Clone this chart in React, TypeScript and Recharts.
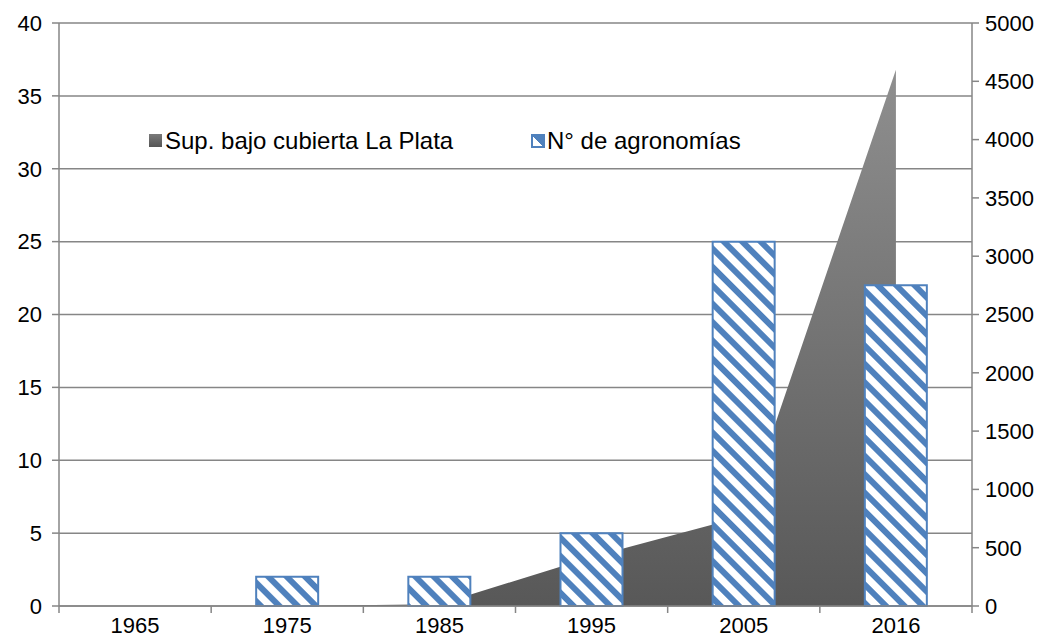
import {
  Area,
  Bar,
  CartesianGrid,
  ComposedChart,
  Legend,
  XAxis,
  YAxis
} from "recharts";

const years = ["1965", "1975", "1985", "1995", "2005", "2016"];
const agronomias = [0, 2, 2, 5, 25, 22];
const superficie = [0, 0, 15, 420, 770, 4600];

const leftTicks = [0, 5, 10, 15, 20, 25, 30, 35, 40];
const rightTicks = [0, 500, 1000, 1500, 2000, 2500, 3000, 3500, 4000, 4500, 5000];

const FONT = "'Liberation Sans', Arial, sans-serif";
const AXIS = "#868686";
const BLUE = "#4f81bd";

const data = years.map((year, idx) => ({
  year,
  agronomias: agronomias[idx] || null,
  superficie: superficie[idx]
}));

function YearTick(props: any) {
  const { x, y, payload } = props;
  const half = payload.offset ?? 76;
  const left = payload.coordinate - half;
  const right = payload.coordinate + half;
  return (
    <g>
      <line x1={left} x2={left} y1={y} y2={y + 7} stroke={AXIS} strokeWidth={1.5} />
      {payload.index === years.length - 1 && (
        <line x1={right} x2={right} y1={y} y2={y + 7} stroke={AXIS} strokeWidth={1.5} />
      )}
      <text x={x} y={y + 27} textAnchor="middle" fontSize={22} fontFamily={FONT} fill="#000">
        {payload.value}
      </text>
    </g>
  );
}

function LegendBox() {
  return (
    <div style={{ position: "relative", height: 0, fontFamily: FONT, fontSize: 24, color: "#000" }}>
      <div
        style={{
          position: "absolute",
          left: 149,
          top: 134,
          width: 13,
          height: 13,
          background: "linear-gradient(#7a7a7a, #555)"
        }}
      />
      <div style={{ position: "absolute", left: 165, top: 127, lineHeight: "28px", whiteSpace: "nowrap" }}>
        Sup. bajo cubierta La Plata
      </div>
      <div
        style={{
          position: "absolute",
          left: 531,
          top: 134,
          width: 10,
          height: 10,
          border: `2px solid ${BLUE}`,
          background: `linear-gradient(45deg, #fff 45%, ${BLUE} 46%)`
        }}
      />
      <div style={{ position: "absolute", left: 547, top: 127, lineHeight: "28px", whiteSpace: "nowrap" }}>
        N° de agronomías
      </div>
    </div>
  );
}

export default function App() {
  return (
    <div style={{ width: 1051, height: 639, background: "#fff" }}>
      <style>{`body{margin:0}`}</style>
      <ComposedChart
        width={1051}
        height={639}
        data={data}
        margin={{ top: 23, right: 4, bottom: 3, left: 4 }}
        barCategoryGap={0}
      >
        <defs>
          <linearGradient id="areaGrad" x1="0" y1="0" x2="0" y2="1">
            <stop offset="0%" stopColor="#8f8f8f" />
            <stop offset="100%" stopColor="#585858" />
          </linearGradient>
          <pattern
            id="stripes"
            patternUnits="userSpaceOnUse"
            width={13}
            height={13}
            patternTransform="rotate(-45)"
          >
            <rect width={13} height={13} fill="#fff" />
            <rect x={0} y={0} width={6} height={13} fill={BLUE} />
          </pattern>
        </defs>
        <CartesianGrid vertical={false} yAxisId="left" stroke={AXIS} strokeWidth={1.5} />
        <XAxis
          dataKey="year"
          height={30}
          tickLine={false}
          tickSize={0}
          tickMargin={0}
          interval={0}
          axisLine={{ stroke: AXIS, strokeWidth: 1.5 }}
          tick={<YearTick />}
        />
        <YAxis
          yAxisId="left"
          width={55}
          domain={[0, 40]}
          ticks={leftTicks}
          interval={0}
          tickSize={7}
          tickMargin={10}
          axisLine={{ stroke: AXIS, strokeWidth: 1.5 }}
          tickLine={{ stroke: AXIS, strokeWidth: 1.5 }}
          tick={{ fill: "#000", fontSize: 22, fontFamily: FONT }}
        />
        <YAxis
          yAxisId="right"
          orientation="right"
          width={75}
          domain={[0, 5000]}
          ticks={rightTicks}
          interval={0}
          tickSize={7}
          tickMargin={6}
          axisLine={{ stroke: AXIS, strokeWidth: 1.5 }}
          tickLine={{ stroke: AXIS, strokeWidth: 1.5 }}
          tick={{ fill: "#000", fontSize: 22, fontFamily: FONT, textAnchor: "start" }}
        />
        <Legend
          content={<LegendBox />}
          wrapperStyle={{ position: "absolute", left: 0, top: 0, width: 1051, height: 0 }}
        />
        <Area
          yAxisId="right"
          type="linear"
          dataKey="superficie"
          name="Sup. bajo cubierta La Plata"
          stroke="none"
          fill="url(#areaGrad)"
          fillOpacity={1}
          dot={false}
          activeDot={false}
          isAnimationActive={false}
        />
        <Bar
          yAxisId="left"
          dataKey="agronomias"
          name="N° de agronomías"
          barSize={62}
          fill="url(#stripes)"
          stroke={BLUE}
          strokeWidth={2}
          isAnimationActive={false}
        />
      </ComposedChart>
    </div>
  );
}
